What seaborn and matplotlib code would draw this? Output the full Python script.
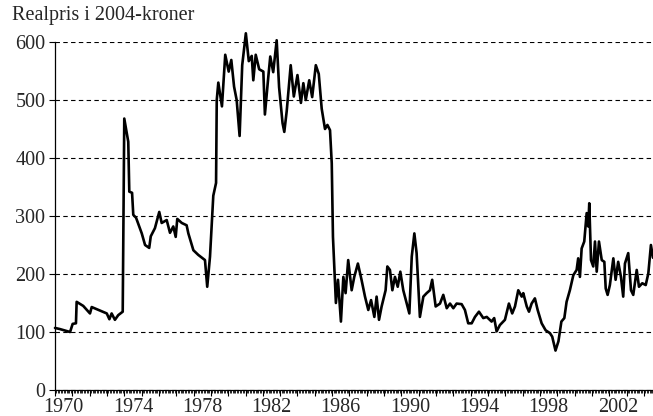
import matplotlib
matplotlib.use('Agg')
import matplotlib.pyplot as plt
import seaborn as sns
import numpy as np
import pandas as pd

years = [1970.00, 1970.29, 1970.87, 1971.02, 1971.21, 1971.25, 1971.63, 1972.02, 1972.12, 1972.60,
         1972.99, 1973.14, 1973.27, 1973.46, 1973.65, 1973.91, 1974.00, 1974.23, 1974.29, 1974.45,
         1974.52, 1974.68, 1975.01, 1975.20, 1975.44, 1975.53, 1975.77, 1976.02, 1976.16, 1976.45,
         1976.64, 1976.83, 1976.97, 1977.06, 1977.32, 1977.60, 1977.70, 1977.99, 1978.27, 1978.66,
         1978.79, 1978.95, 1979.14, 1979.30, 1979.34, 1979.43, 1979.64, 1979.83, 1980.03, 1980.18,
         1980.34, 1980.49, 1980.66, 1980.81, 1981.02, 1981.19, 1981.36, 1981.45, 1981.59, 1981.79,
         1982.03, 1982.12, 1982.32, 1982.43, 1982.60, 1982.80, 1982.94, 1983.14, 1983.24, 1983.38,
         1983.61, 1983.79, 1984.00, 1984.20, 1984.34, 1984.48, 1984.68, 1984.85, 1985.06, 1985.23,
         1985.40, 1985.59, 1985.73, 1985.88, 1985.98, 1986.05, 1986.22, 1986.34, 1986.51, 1986.65,
         1986.78, 1986.93, 1987.13, 1987.28, 1987.49, 1987.70, 1987.90, 1988.09, 1988.25, 1988.44,
         1988.57, 1988.71, 1988.86, 1989.09, 1989.19, 1989.34, 1989.48, 1989.63, 1989.79, 1989.94,
         1990.11, 1990.31, 1990.46, 1990.60, 1990.75, 1990.88, 1991.07, 1991.27, 1991.46, 1991.65,
         1991.78, 1991.98, 1992.23, 1992.42, 1992.62, 1992.81, 1993.00, 1993.19, 1993.48, 1993.67,
         1993.86, 1994.06, 1994.25, 1994.48, 1994.73, 1994.93, 1995.21, 1995.36, 1995.50, 1995.69,
         1995.98, 1996.21, 1996.40, 1996.56, 1996.75, 1996.95, 1997.04, 1997.24, 1997.37, 1997.52,
         1997.71, 1997.87, 1998.10, 1998.33, 1998.58, 1998.71, 1998.90, 1999.07, 1999.24, 1999.41,
         1999.54, 1999.73, 1999.93, 2000.12, 2000.21, 2000.31, 2000.41, 2000.56, 2000.70, 2000.79,
         2000.85, 2000.95, 2001.08, 2001.18, 2001.28, 2001.41, 2001.57, 2001.72, 2001.80, 2001.91,
         2002.04, 2002.24, 2002.37, 2002.52, 2002.68, 2002.81, 2002.91, 2003.10, 2003.26, 2003.39,
         2003.59, 2003.72, 2003.91, 2004.11, 2004.26, 2004.41, 2004.53]
prices = [107, 105, 100, 114, 115, 152, 145, 132, 143, 137,
          132, 122, 132, 121, 129, 135, 468, 428, 342, 340,
          302, 297, 270, 250, 245, 265, 279, 307, 288, 293,
          271, 282, 264, 295, 288, 284, 270, 241, 233, 224,
          178, 230, 335, 357, 500, 530, 489, 578, 549, 569,
          523, 500, 438, 560, 615, 567, 576, 534, 578, 553,
          549, 475, 541, 575, 548, 603, 522, 460, 445, 481,
          560, 506, 543, 495, 529, 500, 534, 505, 560, 545,
          485, 450, 457, 448, 391, 264, 150, 190, 118, 195,
          167, 224, 172, 195, 218, 190, 161, 138, 155, 126,
          161, 121, 144, 172, 213, 207, 172, 195, 178, 204,
          172, 149, 132, 230, 270, 236, 126, 161, 167, 172,
          190, 144, 149, 164, 141, 149, 141, 149, 148, 138,
          115, 115, 126, 135, 124, 126, 118, 124, 101, 112,
          121, 149, 132, 144, 172, 161, 167, 144, 135, 149,
          158, 138, 115, 103, 98, 92, 68, 84, 118, 124,
          152, 172, 198, 207, 227, 195, 244, 256, 305, 282,
          322, 224, 213, 256, 204, 256, 224, 221, 175, 164,
          181, 227, 190, 221, 195, 161, 218, 236, 172, 164,
          207, 178, 184, 181, 201, 250, 228]

ytick_values = [0, 100, 200, 300, 400, 500, 600]
xtick_years = [1970, 1974, 1978, 1982, 1986, 1990, 1994, 1998, 2002]
xtick_labels = [str(y) for y in xtick_years]
title_text = "Realpris i 2004-kroner"

sns.set_style('white')
plt.rcParams['font.family'] = ['Liberation Serif', 'DejaVu Serif']

fig = plt.figure(figsize=(6.53, 4.16), dpi=100)
ax = fig.add_axes([55 / 653, 1 - 390 / 416, 1 - 55 / 653, (390 - 42) / 416])

df = pd.DataFrame({'year': years, 'price': prices})
sns.lineplot(data=df, x='year', y='price', color='black', linewidth=1.9,
             estimator=None, ax=ax, clip_on=False, zorder=3)

ax.set_xlim(1970, 2004.53)
ax.set_ylim(0, 600)
ax.set_xlabel('')
ax.set_ylabel('')

ax.set_yticks(ytick_values)
ax.tick_params(axis='y', length=4, width=0.8, direction='out', pad=3,
               labelsize=14.5, color='black', left=True)
ax.yaxis.grid(True, linestyle=(0, (4, 3)), color='black', linewidth=0.8)
ax.xaxis.grid(False)
ax.set_axisbelow(True)

for s in ['top', 'right']:
    ax.spines[s].set_visible(False)
for s in ['left', 'bottom']:
    ax.spines[s].set_color('black')
    ax.spines[s].set_linewidth(0.9)

ax.set_xticks(np.arange(1970, 2005, 1))
ax.set_xticks(np.arange(1970, 2004.55, 1 / 12), minor=True)
ax.tick_params(axis='x', which='major', length=4, width=0.8, direction='out',
               labelbottom=False, color='black', bottom=True)
ax.tick_params(axis='x', which='minor', length=2, width=0.6, direction='out',
               color='black', bottom=True)

sec = ax.secondary_xaxis('bottom')
sec.set_xticks([y + 0.5 for y in xtick_years], labels=xtick_labels)
sec.tick_params(length=0, labelsize=14.5, pad=6)
sec.spines['bottom'].set_visible(False)

fig.text(12 / 653, 1 - 6 / 416, title_text, fontsize=14.5, ha='left', va='top')

fig.savefig('out.png', dpi=100)
